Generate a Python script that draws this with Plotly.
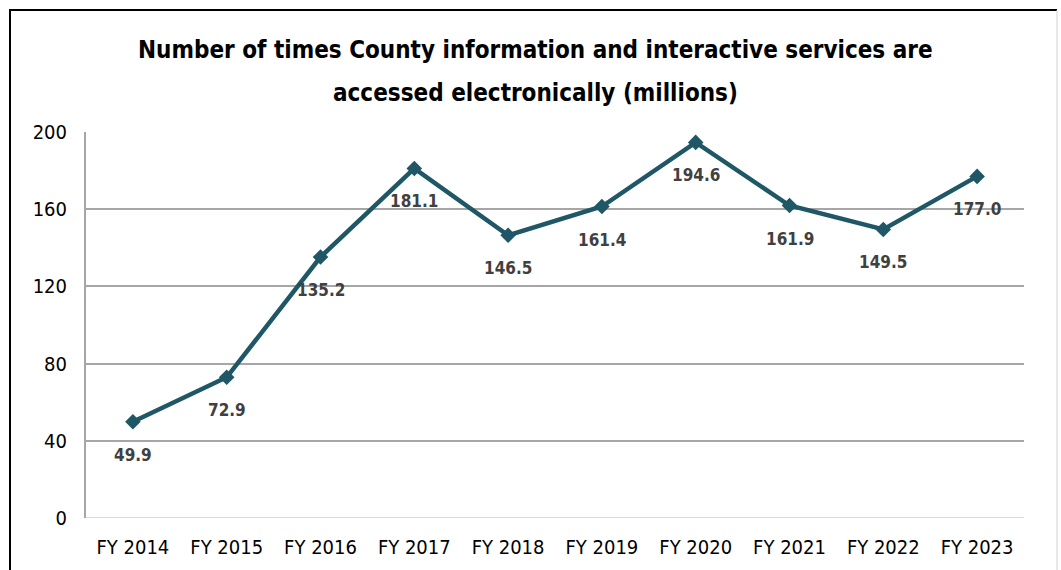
import plotly.graph_objects as go

# Fiscal years and electronic access counts (millions)
years = ["FY 2014", "FY 2015", "FY 2016", "FY 2017", "FY 2018",
         "FY 2019", "FY 2020", "FY 2021", "FY 2022", "FY 2023"]
accesses = [49.9, 72.9, 135.2, 181.1, 146.5, 161.4, 194.6, 161.9, 149.5, 177.0]
y_ticks = [0, 40, 80, 120, 160, 200]

title_lines = [
    "Number of times County information and interactive services are",
    "accessed electronically (millions)",
]

W, H = 1061, 570
L, R, T, B = 86, 37, 132, 52
pw, ph = W - L - R, H - T - B

def px_x(px):
    return (px - L) / pw

def px_y(py):
    return (H - B - py) / ph

NARROW = "DejaVu Sans Condensed, Liberation Sans Narrow, Arial Narrow, sans-serif"
LINE_COLOR = "#1f5767"

fig = go.Figure()
fig.add_trace(go.Scatter(
    x=years, y=accesses, mode="lines+markers",
    line=dict(color=LINE_COLOR, width=4.5),
    marker=dict(symbol="diamond", size=12, color=LINE_COLOR),
    hoverinfo="skip", showlegend=False,
))

annotations = []
for yr, v in zip(years, accesses):
    annotations.append(dict(
        x=yr, y=v, xref="x", yref="y", text=f"<b>{v:.1f}</b>",
        showarrow=False, yshift=-33,
        font=dict(family=NARROW, size=17, color="#404040"),
    ))

for i, line in enumerate(title_lines):
    annotations.append(dict(
        x=px_x(535), y=px_y(50 + 43 * i), xref="paper", yref="paper",
        text=f"<b>{line}</b>", showarrow=False,
        xanchor="center", yanchor="middle",
        font=dict(family=NARROW, size=24, color="#000000"),
    ))

shapes = [
    # outer frame: dark left/top edges, light right edge
    dict(type="line", xref="paper", yref="paper",
         x0=px_x(10), x1=px_x(10), y0=px_y(10), y1=px_y(600),
         line=dict(color="#000000", width=2)),
    dict(type="line", xref="paper", yref="paper",
         x0=px_x(9), x1=px_x(1057), y0=px_y(10), y1=px_y(10),
         line=dict(color="#000000", width=2)),
    dict(type="line", xref="paper", yref="paper",
         x0=px_x(1057), x1=px_x(1057), y0=px_y(10), y1=px_y(600),
         line=dict(color="#d0d0d0", width=1)),
    # baseline at zero
    dict(type="line", xref="paper", yref="y",
         x0=0, x1=1, y0=0, y1=0, layer="below",
         line=dict(color="#d9d9d9", width=2)),
]

fig.update_layout(
    width=W, height=H,
    margin=dict(l=L, r=R, t=T, b=B),
    paper_bgcolor="white", plot_bgcolor="white",
    annotations=annotations, shapes=shapes,
    xaxis=dict(
        type="category", range=[-0.5, len(years) - 0.5],
        showgrid=False, zeroline=False, showline=False, ticks="",
        tickfont=dict(family=NARROW, size=20, color="#000000"),
        ticklabelstandoff=15,
    ),
    yaxis=dict(
        range=[0, 200], tickvals=y_ticks, showgrid=True,
        gridcolor="#a6a6a6", gridwidth=2, zeroline=False,
        showline=True, linecolor="#a6a6a6", linewidth=2,
        ticks="", ticklabelstandoff=13,
        tickfont=dict(family=NARROW, size=20, color="#000000"),
    ),
)

fig.write_html("out.html")
